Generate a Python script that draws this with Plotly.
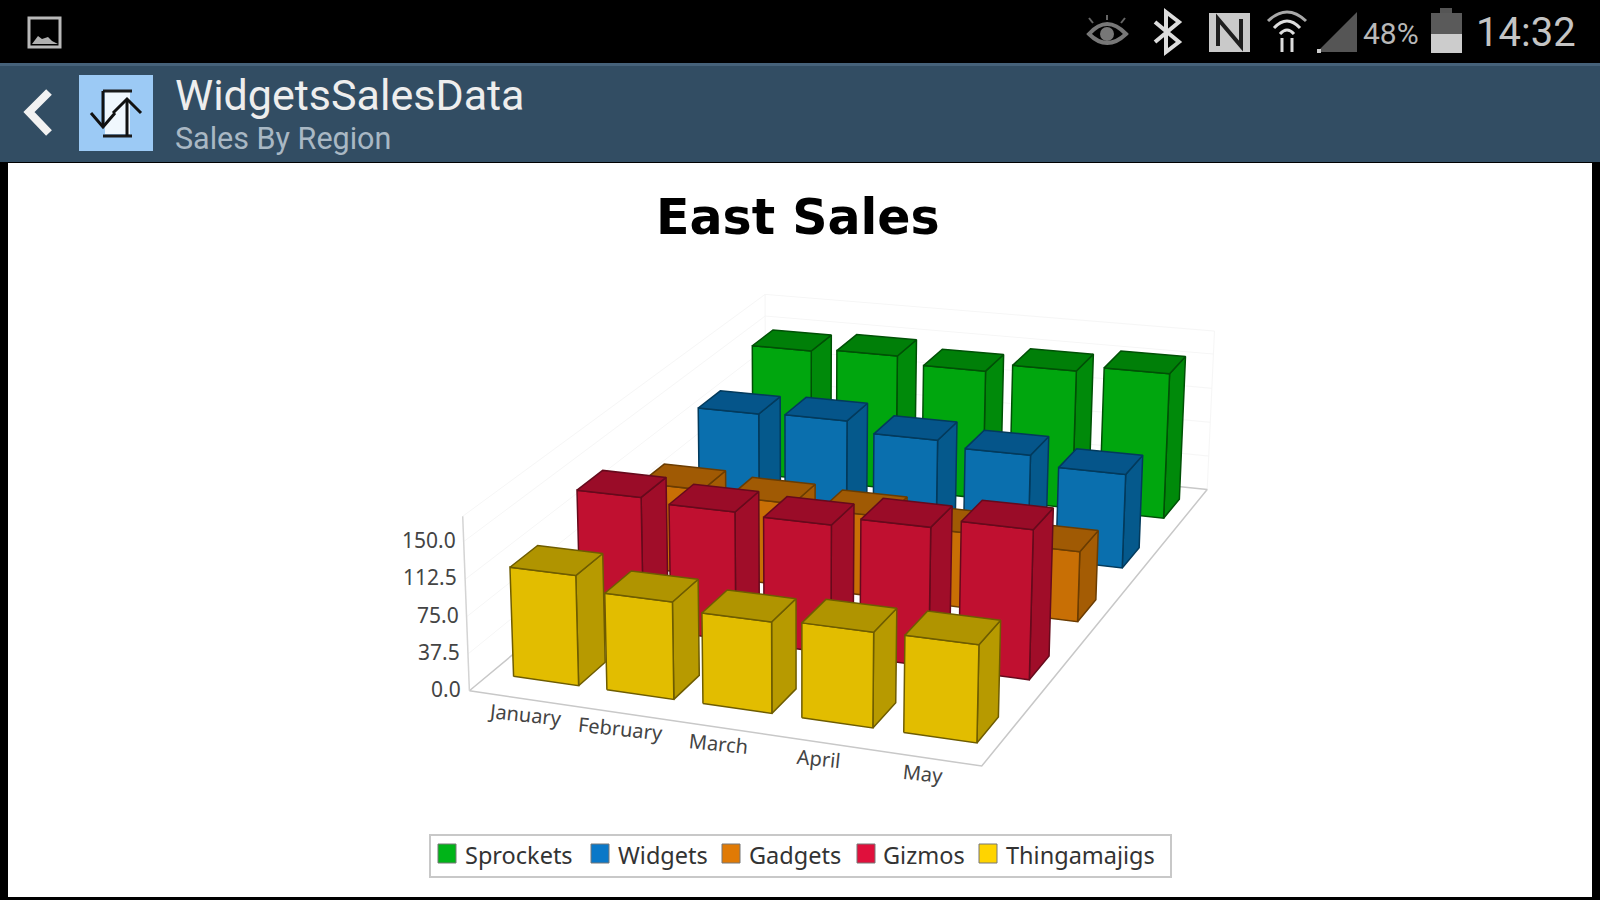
import numpy as np
import plotly.graph_objects as go

months = ["January", "February", "March", "April", "May"]
sprockets = [147, 150, 142, 151, 157]
widgets = [124, 126, 115, 109, 99]
gadgets = [92, 88, 85, 78, 72]
gizmos = [136, 132, 130, 139, 148]
thingamajigs = [111, 97, 90, 93, 94]
z_ticks = [0.0, 37.5, 75.0, 112.5, 150.0]
z_labels = ["0.0", "37.5", "75.0", "112.5", "150.0"]

names = ["Thingamajigs", "Gizmos", "Gadgets", "Widgets", "Sprockets"]
rows = [thingamajigs, gizmos, gadgets, widgets, sprockets]
face = ["#e2bd00", "#c01030", "#c86f05", "#0a6fae", "#00a60e"]
side = ["#b79a00", "#a00d29", "#a45c04", "#05598c", "#008a0a"]
top = ["#b09400", "#9a0c28", "#a05a04", "#05558a", "#007f08"]
edge = ["#6e5c00", "#660a1c", "#6a3c02", "#033a5c", "#005006"]
swatch = ["#ffd400", "#e0103c", "#e07a05", "#0a78c8", "#00b418"]

xlo, xhi, ylo, yhi = -0.60, 4.55, -0.50, 4.45
zlo, zhi = 0.0, 175.0
hw, hd = 0.35, 0.2

# perspective camera, month / series / value to page pixels
M = np.array([[84.4719, 89.4483, -0.0895111, 559.504],
              [3.60945, -31.7989, -1.04381, 669.26],
              [-0.0141475, 0.0395425, -0.000111905, 1.0]])


def proj(x, y, z):
    q = M @ np.array([x, y, z, 1.0])
    return q[0] / q[2], q[1] / q[2]


fig = go.Figure()


def add_poly(pts, fill, line):
    fig.add_trace(go.Scatter(x=[p[0] for p in pts] + [pts[0][0]], y=[p[1] for p in pts] + [pts[0][1]], mode="lines", fill="toself",
                             fillcolor=fill, line=dict(color=line, width=1.5), hoverinfo="skip", showlegend=False))


def add_line(pts, color, width):
    fig.add_trace(go.Scatter(x=[p[0] for p in pts], y=[p[1] for p in pts], mode="lines", line=dict(color=color, width=width),
                             hoverinfo="skip", showlegend=False))


# walls and floor
for v in z_ticks[1:] + [zhi]:
    add_line([proj(xlo, ylo, v), proj(xlo, yhi, v), proj(xhi, yhi, v)], "#f6f6f6", 1)
add_line([proj(xlo, yhi, 0), proj(xlo, yhi, zhi)], "#f6f6f6", 1)
add_line([proj(xhi, yhi, 0), proj(xhi, yhi, zhi)], "#f6f6f6", 1)
add_line([proj(xlo, ylo, 0), proj(xhi, ylo, 0), proj(xhi, yhi, 0), proj(xlo, yhi, 0), proj(xlo, ylo, 0)], "#c8c8c8", 1.5)
add_line([proj(xlo, ylo, 0), proj(xlo, ylo, zhi)], "#d4d4d4", 1.5)

# bars, back row first so the nearer ones paint over
for j in range(4, -1, -1):
    for i, v in enumerate(rows[j]):
        x0, x1, y0, y1 = i - hw, i + hw, j - hd, j + hd
        add_poly([proj(x1, y0, 0), proj(x1, y1, 0), proj(x1, y1, v), proj(x1, y0, v)], side[j], edge[j])
        add_poly([proj(x0, y0, 0), proj(x1, y0, 0), proj(x1, y0, v), proj(x0, y0, v)], face[j], edge[j])
        add_poly([proj(x0, y0, v), proj(x1, y0, v), proj(x1, y1, v), proj(x0, y1, v)], top[j], edge[j])


def rect(x0, y0, x1, y1, color, line=None, lw=1):
    return dict(type="rect", xref="x", yref="y", x0=x0, x1=x1, y0=y0, y1=y1, layer="below",
                fillcolor=color, line=dict(color=line or color, width=lw if line else 0))


def poly(points, color=None, line=None, lw=2, closed=True):
    d = "M" + " L".join(f"{a},{b}" for a, b in points) + (" Z" if closed else "")
    return dict(type="path", xref="x", yref="y", path=d, layer="below", fillcolor=color or "rgba(0,0,0,0)",
                line=dict(color=line or "rgba(0,0,0,0)", width=lw if line else 0))


def curve(d, color=None, line=None, lw=2):
    return dict(type="path", xref="x", yref="y", path=d, layer="below", fillcolor=color or "rgba(0,0,0,0)",
                line=dict(color=line or "rgba(0,0,0,0)", width=lw if line else 0))


def label(x, y, text, size, color, family="Roboto", xanchor="left", bold=False, angle=0):
    return dict(xref="x", yref="y", x=x, y=y, text=f"<b>{text}</b>" if bold else text, showarrow=False, textangle=angle,
                xanchor=xanchor, yanchor="middle", font=dict(size=size, color=color, family=family))


shapes = [
    rect(0, 63, 1600, 162, "#324d63"),
    rect(0, 63, 1600, 66, "#46627a"),
    rect(8, 163, 1592, 897, "#ffffff"),
    rect(79, 75, 153, 151, "#9ccaf5"),
    poly([(49, 92), (29, 112), (49, 133)], line="#f2f2f2", lw=8, closed=False),
    # app icon
    poly([(105, 92), (130, 92), (130, 134), (105, 134)], color="#f0f7fd"),
    poly([(103, 91), (132, 91)], line="#1b1b1b", lw=3, closed=False),
    poly([(103, 136), (132, 136)], line="#1b1b1b", lw=3, closed=False),
    poly([(103, 91), (103, 126)], line="#111111", lw=3, closed=False),
    poly([(91, 113), (103, 127), (115, 113)], line="#111111", lw=3, closed=False),
    poly([(127, 136), (127, 100)], line="#111111", lw=3, closed=False),
    poly([(113, 113), (127, 99), (141, 113)], line="#111111", lw=3, closed=False),
    # status icons
    rect(29, 18, 60, 47, "#000000", line="#b9b9b9", lw=3),
    poly([(32, 44), (38, 36), (42, 39), (48, 37), (52, 41), (58, 44)], color="#b0b0b0"),
    curve("M1089,34 Q1107,14 1126,34 Q1107,52 1089,34 Z", line="#777777", lw=4),
    dict(type="circle", xref="x", yref="y", x0=1100, x1=1114, y0=27, y1=41, layer="below", fillcolor="#777777", line=dict(width=0)),
    poly([(1093, 23), (1089, 18)], line="#666666", lw=2, closed=False),
    poly([(1107, 20), (1107, 15)], line="#666666", lw=2, closed=False),
    poly([(1121, 23), (1125, 18)], line="#666666", lw=2, closed=False),
    poly([(1155, 22), (1179, 42), (1166, 52), (1166, 12), (1179, 22), (1155, 42)], line="#dddddd", lw=4, closed=False),
    rect(1209, 13, 1250, 52, "#c9c9c9"),
    poly([(1218, 46), (1218, 19), (1241, 46), (1241, 19)], line="#1e1e1e", lw=4, closed=False),
    curve("M1268,21 Q1287,3 1306,21", line="#a8a8a8", lw=3),
    curve("M1274,28 Q1287,14 1300,28", line="#dddddd", lw=3),
    curve("M1280,34 Q1287,26 1294,34", line="#dddddd", lw=3),
    poly([(1282, 38), (1282, 52)], line="#dddddd", lw=3, closed=False),
    poly([(1292, 38), (1292, 52)], line="#dddddd", lw=3, closed=False),
    poly([(1317, 52), (1357, 12), (1357, 52)], color="#555555"),
    rect(1317, 49, 1321, 53, "#cccccc"),
    rect(1440, 8, 1452, 14, "#555555"),
    rect(1431, 13, 1462, 34, "#5a5a5a"),
    rect(1431, 34, 1462, 53, "#cccccc"),
    # legend box
    rect(430, 835, 1171, 877, "#ffffff", line="#c8c8c8", lw=2),
]
notes = [
    label(173, 95, "WidgetsSalesData", 43, "#eeeeee"),
    label(173, 138, "Sales By Region", 30.5, "#a9b8c4"),
    label(1361, 33, "48%", 30, "#b8b8b8"),
    label(1474, 32, "14:32", 40, "#c4c4c4"),
    label(798, 217, "East Sales", 49, "#000000", family="DejaVu Sans", xanchor="center", bold=True),
]
legend_x = [(438, 463), (591, 616), (722, 747), (857, 881), (979, 1004)]
for (sx, tx), idx in zip(legend_x, [4, 3, 2, 1, 0]):
    shapes.append(rect(sx, 844, sx + 18, 863, swatch[idx], line="#777777", lw=1))
    notes.append(label(tx, 855, names[idx], 23.5, "#333333", family="Noto Sans"))

for v, t in zip(z_ticks, z_labels):
    px, py = proj(xlo, ylo, v)
    notes.append(label(px - 6, py - 2, t, 21, "#444444", family="Noto Sans", xanchor="right"))
for i, m in enumerate(months):
    px, py = proj(i, ylo, 0)
    notes.append(label(px, py + 16, m, 20, "#444444", family="Noto Sans", xanchor="center", angle=6))

fig.update_layout(
    width=1600, height=900, margin=dict(l=0, r=0, t=0, b=0), paper_bgcolor="#000000", plot_bgcolor="rgba(0,0,0,0)",
    showlegend=False, shapes=shapes, annotations=notes,
    xaxis=dict(range=[0, 1600], visible=False, fixedrange=True),
    yaxis=dict(range=[900, 0], visible=False, fixedrange=True),
)
fig.write_html("out.html", config=dict(displayModeBar=False),
               post_script="document.body.style.margin='0';document.body.style.overflow='hidden';")
